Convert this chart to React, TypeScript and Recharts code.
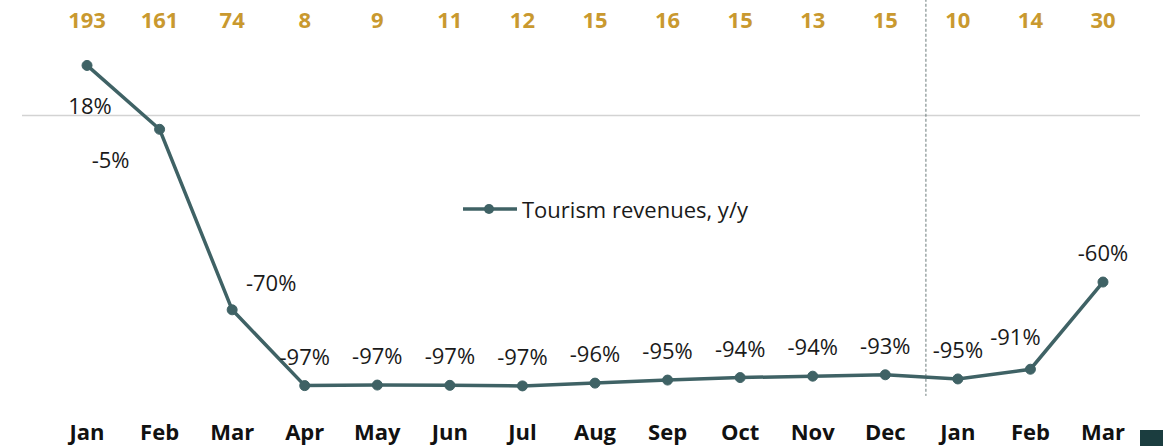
import { LineChart, Line, XAxis, YAxis, ReferenceLine, Legend, LabelList } from 'recharts'

const months = ['Jan', 'Feb', 'Mar', 'Apr', 'May', 'Jun', 'Jul', 'Aug', 'Sep', 'Oct', 'Nov', 'Dec', 'Jan', 'Feb', 'Mar']
const revenuesYoY = [18, -5, -70, -97.3, -97.1, -97.2, -97.4, -96.4, -95.3, -94.4, -93.9, -93.4, -94.9, -91.4, -60]
const topCounts = [193, 161, 74, 8, 9, 11, 12, 15, 16, 15, 13, 15, 10, 14, 30]

const LINE = '#3f6265'
const GOLD = '#c9992f'
const FONT = '"Open Sans", "Noto Sans", sans-serif'

// label nudges for the points where the default (centred above) doesn't fit
const LABEL_NUDGE: Record<number, [number, number]> = {
  0: [3, 49],
  1: [-49, 39],
  2: [39, -19],
  13: [-15, -24],
}

const data = revenuesYoY.map((v, i) => ({ i, v }))

export default function App() {
  const renderLabel = (props: any) => {
    const { x, y, index, value } = props
    const [dx, dy] = LABEL_NUDGE[index] ?? [0, -21]
    return (
      <text x={x + dx} y={y + dy} textAnchor="middle" fill="#1a1a1a" fontSize={22} fontFamily={FONT}>
        {Math.round(value)}%
      </text>
    )
  }

  return (
    <div style={{ position: 'absolute', left: 0, top: 0 }}>
      <LineChart width={1163} height={446} data={data} margin={{ top: 0, right: 23, bottom: 0, left: 22 }}>
        <XAxis
          xAxisId="top"
          orientation="top"
          dataKey="i"
          type="number"
          domain={[-0.896, 14.51]}
          ticks={months.map((_, i) => i)}
          height={46}
          axisLine={false}
          tickLine={false}
          tick={(p: any) => (
            <text x={p.x} y={28} textAnchor="middle" fill={GOLD} fontSize={22} fontWeight={700} fontFamily={FONT}>
              {topCounts[p.payload.value]}
            </text>
          )}
        />
        <XAxis
          dataKey="i"
          type="number"
          domain={[-0.896, 14.51]}
          ticks={months.map((_, i) => i)}
          height={39}
          axisLine={false}
          tickLine={false}
          tick={(p: any) => (
            <text x={p.x} y={440} textAnchor="middle" fill="#111" fontSize={22} fontWeight={700} fontFamily={FONT}>
              {months[p.payload.value]}
            </text>
          )}
        />
        <YAxis hide domain={[-105, 25]} />
        <ReferenceLine y={0} stroke="#d3d3d3" strokeWidth={1.5} />
        <ReferenceLine
          segment={[{ x: 11.56, y: 42 }, { x: 11.56, y: -101 }]}
          stroke="#6b7a7a"
          strokeDasharray="3 2"
          strokeWidth={1}
          ifOverflow="visible"
        />
        <Legend
          layout="vertical"
          verticalAlign="middle"
          align="center"
          wrapperStyle={{ position: 'absolute', left: 460, top: 194, width: 320 }}
          content={() => (
            <div style={{ display: 'flex', alignItems: 'center', fontFamily: FONT, fontSize: 22, color: '#1a1a1a' }}>
              <svg width={58} height={14}>
                <line x1={3} y1={7} x2={57} y2={7} stroke={LINE} strokeWidth={3.5} />
                <circle cx={29} cy={7} r={5} fill={LINE} />
              </svg>
              <span style={{ marginLeft: 4 }}>Tourism revenues, y/y</span>
            </div>
          )}
        />
        <Line
          dataKey="v"
          stroke={LINE}
          strokeWidth={3.5}
          dot={{ r: 5, fill: LINE, stroke: LINE, strokeWidth: 1 }}
          isAnimationActive={false}
        >
          <LabelList dataKey="v" content={renderLabel} />
        </Line>
      </LineChart>
      <div style={{ position: 'absolute', left: 1140, top: 430, width: 23, height: 16, background: '#1b3d3f' }} />
    </div>
  )
}
